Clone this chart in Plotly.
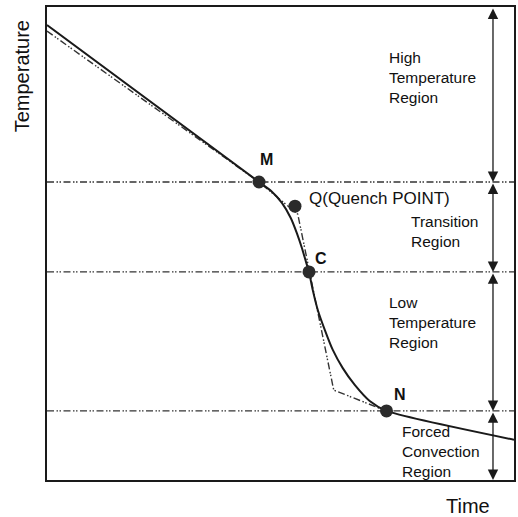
import plotly.graph_objects as go

# ---- data (time and temperature in arbitrary units, 0..100) ----
time_solid = [0, 45.4, 48.0, 50.3, 52.2, 53.5, 54.6, 55.4, 56.1, 56.9, 58.0, 59.5, 61.2, 63.3, 65.9, 69.1, 72.7, 100]
temp_solid = [96.2, 63.0, 61.1, 58.6, 55.4, 52.2, 49.0, 46.3, 44.0, 40.2, 35.9, 31.7, 27.5, 23.7, 20.1, 16.7, 14.6, 8.5]

time_model = [0, 45.4, 53.7, 61.4, 72.7]
temp_model = [94.9, 63.0, 56.2, 19.0, 14.6]

point_names = ["M", "Q", "C", "N"]
point_time = [45.4, 53.1, 56.1, 72.7]
point_temp = [63.0, 57.9, 44.0, 14.6]

region_bounds = [100, 63.0, 44.0, 14.6, 0]
region_arrow_time = 95.5

FONT = "Liberation Sans, Arial, Helvetica, sans-serif"
DASH = "7px,2.5px,1.5px,1.5px,1.5px,2.5px"

fig = go.Figure()

# horizontal boundaries between regions
for b in region_bounds[1:-1]:
    fig.add_trace(go.Scatter(x=[0, 100], y=[b, b], mode="lines",
                             line=dict(color="#333333", width=1.3, dash=DASH),
                             hoverinfo="skip", showlegend=False))

# model (dash-dot) curve
fig.add_trace(go.Scatter(x=time_model, y=temp_model, mode="lines",
                         line=dict(color="#333333", width=1.4, dash=DASH),
                         showlegend=False))

# measured (solid) curve
fig.add_trace(go.Scatter(x=time_solid, y=temp_solid, mode="lines",
                         line=dict(color="#1a1a1a", width=2, shape="spline", smoothing=0.6),
                         showlegend=False))

# characteristic points
fig.add_trace(go.Scatter(x=point_time, y=point_temp, mode="markers",
                         marker=dict(size=13, color="#2b2b2b"),
                         text=point_names, showlegend=False))

# vertical region arrows
for top, bot in zip(region_bounds[:-1], region_bounds[1:]):
    fig.add_annotation(x=region_arrow_time, y=bot, ax=region_arrow_time, ay=top,
                       xref="x", yref="y", axref="x", ayref="y", text="",
                       showarrow=True, arrowhead=2, arrowside="end+start",
                       arrowsize=1.6, arrowwidth=1.3, arrowcolor="#1a1a1a",
                       standoff=0, startstandoff=0)

# point labels
label_pos = {"M": (47.1, 67.7), "C": (58.6, 46.9), "N": (75.5, 18.0)}
for name, (lx, ly) in label_pos.items():
    fig.add_annotation(x=lx, y=ly, text="<b>%s</b>" % name, showarrow=False,
                       font=dict(family=FONT, size=16, color="#111111"),
                       xanchor="center", yanchor="middle")

fig.add_annotation(x=55.7, y=59.6, text="Q(Quench POINT)", showarrow=False,
                   font=dict(family=FONT, size=17, color="#111111"),
                   xanchor="left", yanchor="middle")

# region labels (multi-line texts)
region_labels = [
    (73.1, 85.0, "High<br>Temperature<br>Region"),
    (77.8, 52.6, "Transition<br>Region"),
    (73.1, 33.2, "Low<br>Temperature<br>Region"),
    (75.9, 6.1, "Forced<br>Convection<br>Region"),
]
for lx, ly, t in region_labels:
    fig.add_annotation(x=lx, y=ly, text=t, showarrow=False, align="left",
                       font=dict(family=FONT, size=15.5, color="#111111"),
                       xanchor="left", yanchor="middle", borderpad=0)

# axis titles
fig.add_annotation(x=-0.053, y=0.854, xref="paper", yref="paper", text="Temperature",
                   textangle=-90, showarrow=False,
                   font=dict(family=FONT, size=20, color="#111111"),
                   xanchor="center", yanchor="middle")
fig.add_annotation(x=0.902, y=-0.055, xref="paper", yref="paper", text="Time",
                   showarrow=False, font=dict(family=FONT, size=20, color="#111111"),
                   xanchor="center", yanchor="middle")

axis_common = dict(showgrid=False, zeroline=False, showticklabels=False, ticks="",
                   showline=True, mirror=True, linecolor="#1a1a1a", linewidth=2)
fig.update_xaxes(range=[0, 100], **axis_common)
fig.update_yaxes(range=[0, 100], **axis_common)

fig.update_layout(width=518, height=517, margin=dict(l=47, r=2, t=7, b=37),
                  plot_bgcolor="white", paper_bgcolor="white",
                  font=dict(family=FONT))

fig.write_html("out.html")
